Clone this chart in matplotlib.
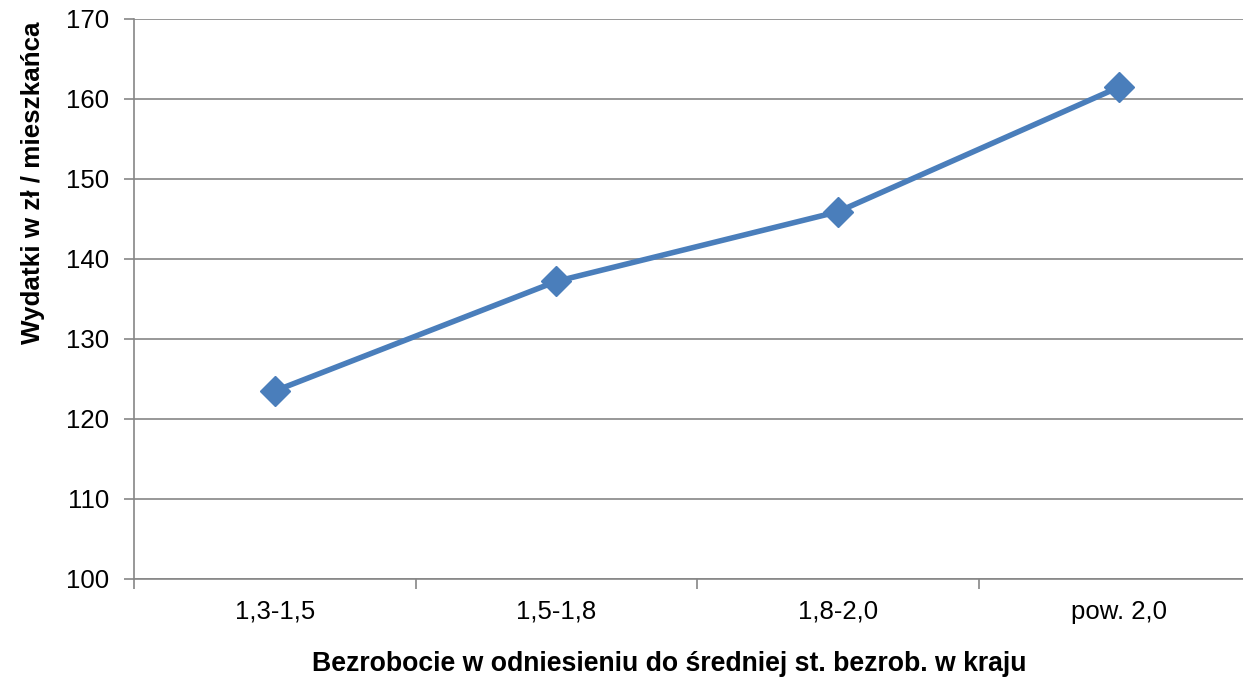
import matplotlib.pyplot as plt

categories = ["1,3-1,5", "1,5-1,8", "1,8-2,0", "pow. 2,0"]
values = [123.5, 137.2, 145.9, 161.5]

plt.rcParams['font.family'] = ['Liberation Sans', 'DejaVu Sans']

W, H = 1243, 680
fig = plt.figure(figsize=(W / 100, H / 100), dpi=100)
# plot area runs a bit past the right edge, like the original
ax = fig.add_axes([134 / W, (H - 579) / H, 1126 / W, 560 / H])

grey = '#868686'
x = range(len(categories))
ax.plot(x, values, color='#4A7EBB', lw=4, marker='D', ms=15,
        markerfacecolor='#4A7EBB', markeredgecolor='#4A7EBB', zorder=3)

ax.set_xlim(-0.5, len(categories) - 0.5)
ax.set_ylim(100, 170)
ax.set_yticks(range(100, 171, 10))
ax.yaxis.grid(True, color=grey, lw=1.2)
ax.set_axisbelow(True)

ax.set_xticks(list(x))
ax.set_xticklabels(categories)
ax.set_xticks([i + 0.5 for i in range(len(categories) - 1)] + [-0.5], minor=True)
ax.tick_params(axis='x', which='major', length=0, pad=15, labelsize=18.5)
ax.tick_params(axis='x', which='minor', length=7, width=1.2, color=grey, direction='out')
ax.tick_params(axis='y', length=7, width=1.2, color=grey, direction='out', labelsize=18.5, pad=11)

for s in ['top', 'right']:
    ax.spines[s].set_visible(False)
for s in ['left', 'bottom']:
    ax.spines[s].set_color(grey)
    ax.spines[s].set_linewidth(1.2)

fig.text(33 / W, 1 - 183 / H, 'Wydatki w zł / mieszkańca', rotation=90,
         ha='center', va='center', fontsize=18.7, fontweight='bold')
fig.text(669 / W, 1 - 664 / H, 'Bezrobocie w odniesieniu do średniej st. bezrob. w kraju',
         ha='center', va='center', fontsize=19.2, fontweight='bold')

fig.savefig('out.png', dpi=100)
